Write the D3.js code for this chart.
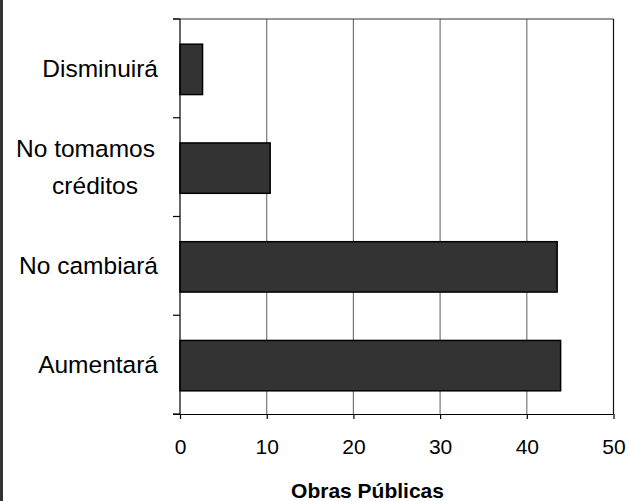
<!DOCTYPE html>
<html>
<head>
<meta charset="utf-8">
<script src="https://cdn.jsdelivr.net/npm/d3@7"></script>
<style>
  html, body { margin: 0; padding: 0; background: #fff; }
  svg { display: block; }
  text { font-family: "Liberation Sans", Arial, sans-serif; fill: #000; }
</style>
</head>
<body>
<svg id="chart" width="629" height="501"></svg>
<script>
const categories = ["Disminuirá", "No tomamos créditos", "No cambiará", "Aumentará"];
const categoryLines = [["Disminuirá"], ["No tomamos", "créditos"], ["No cambiará"], ["Aumentará"]];
const values = [2.6, 10.4, 43.5, 43.9];
const xTicks = [0, 10, 20, 30, 40, 50];
const xTitle = "Obras Públicas";

const svg = d3.select("#chart");
const W = 629, H = 501;
const m = { left: 180, right: 629 - 613.5, top: 19, bottom: 501 - 414 };

// left page border
svg.append("rect").attr("x", 0).attr("y", 0).attr("width", 3).attr("height", H).attr("fill", "#333");

const x = d3.scaleLinear().domain([0, 50]).range([m.left, W - m.right]);
const y = d3.scaleBand().domain(categories).range([m.top, H - m.bottom]).paddingInner(0.49).paddingOuter(0.245);
const yb = d3.scaleBand().domain(categories).range([m.top, H - m.bottom]);

// gridlines
svg.append("g").selectAll("line").data(xTicks.slice(1, -1)).join("line")
  .attr("x1", d => x(d)).attr("x2", d => x(d))
  .attr("y1", m.top).attr("y2", H - m.bottom)
  .attr("stroke", "#777").attr("stroke-width", 1.2);

// top & right border
svg.append("line").attr("x1", m.left - 7).attr("x2", x(50)).attr("y1", m.top).attr("y2", m.top)
  .attr("stroke", "#333").attr("stroke-width", 1.2);
svg.append("line").attr("x1", x(50)).attr("x2", x(50)).attr("y1", m.top).attr("y2", H - m.bottom)
  .attr("stroke", "#111").attr("stroke-width", 1.2);

// bars
svg.append("g").selectAll("rect").data(categories).join("rect")
  .attr("x", x(0))
  .attr("y", d => y(d) + 1)
  .attr("width", (d, i) => x(values[i]) - x(0))
  .attr("height", y.bandwidth())
  .attr("fill", "#333")
  .attr("stroke", "#000")
  .attr("stroke-width", 1.5);

// x axis
const xAxis = d3.axisBottom(x).tickValues(xTicks).tickSize(5).tickPadding(20).tickFormat(d3.format("d"));
const gx = svg.append("g").attr("transform", `translate(0,${H - m.bottom})`).call(xAxis);
gx.select(".domain").attr("stroke", "#000").attr("stroke-width", 1.2).attr("d", `M${m.left - 7},0.5H${x(50)}`);
gx.selectAll(".tick line").attr("stroke", "#000").attr("stroke-width", 1.2);
gx.selectAll(".tick text").attr("font-size", 21).attr("font-family", "Liberation Sans, Arial, sans-serif").attr("fill", "#000");

// y axis ticks (at band boundaries)
const bounds = categories.map(c => yb(c)).concat([H - m.bottom]);
svg.append("g").selectAll("line").data(bounds).join("line")
  .attr("x1", m.left - 7).attr("x2", m.left)
  .attr("y1", d => d).attr("y2", d => d)
  .attr("stroke", "#000").attr("stroke-width", 1.2);
svg.append("line").attr("x1", m.left).attr("x2", m.left).attr("y1", m.top).attr("y2", H - m.bottom)
  .attr("stroke", "#000").attr("stroke-width", 1.2);

// category labels
const lab = svg.append("g").selectAll("text").data(categories).join("text")
  .attr("font-size", 24.5)
  .attr("transform", d => `translate(0,${yb(d) + yb.bandwidth() / 2})`);
lab.each(function(d, i) {
  const lines = categoryLines[i];
  const t = d3.select(this);
  const n = lines.length;
  lines.forEach((ln, k) => {
    t.append("tspan")
      .attr("x", n > 1 ? (k === 0 ? 85.5 : 95) : 158)
      .attr("text-anchor", n > 1 ? "middle" : "end")
      .attr("y", (k - (n - 1) / 2) * 36.7)
      .attr("dy", "0.35em")
      .text(ln);
  });
});

// x title
svg.append("text").attr("x", 367.5).attr("y", 498)
  .attr("text-anchor", "middle").attr("font-size", 21).attr("font-weight", "bold")
  .attr("fill", "#333")
  .text(xTitle);
</script>
</body>
</html>
